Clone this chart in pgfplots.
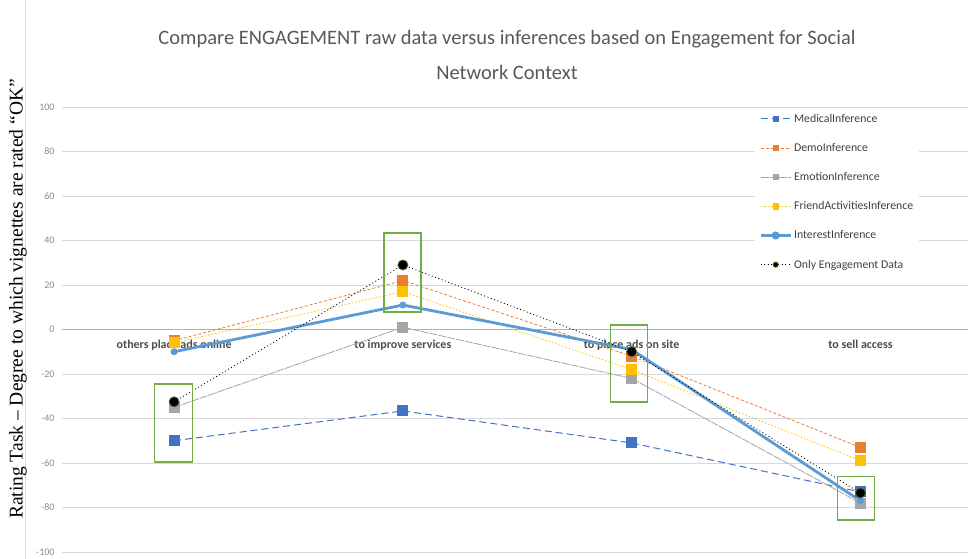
\documentclass[border=0pt]{standalone}
\usepackage{pgfplots}
\pgfplotsset{compat=1.18}
\usepackage{fontspec}
\setmainfont{Carlito}
\newfontfamily\serifb{Liberation Serif}
\definecolor{cMed}{HTML}{4472C4}
\definecolor{cDemo}{HTML}{ED7D31}
\definecolor{cEmo}{HTML}{A5A5A5}
\definecolor{cFriend}{HTML}{FFC000}
\definecolor{cInt}{HTML}{5B9BD5}
\definecolor{cBox}{HTML}{70AD47}
\definecolor{cTxt}{HTML}{595959}

\begin{document}
\begin{tikzpicture}
\path[use as bounding box] (-62pt,-7pt) rectangle (909pt,552pt);
\draw[black!15] (-37pt,-7pt) -- (-37pt,552pt);
\begin{axis}[
  scale only axis, width=906pt, height=445pt,
  xmin=-0.49, xmax=3.47, ymin=-100, ymax=100,
  axis x line=middle, axis y line=left,
  x axis line style={-, black!30, line width=1.2pt},
  y axis line style={draw=none},
  xtick={0,1,2,3},
  xticklabels={others place ads online, to improve services, to place ads on site, to sell access},
  xticklabel style={font=\fontsize{12}{14}\selectfont\bfseries, text=black!70, yshift=-7pt},
  ytick={-100,-80,...,100},
  yticklabel style={font=\fontsize{10}{11}\selectfont, text=black!45, xshift=-4pt},
  /pgf/number format/assume math mode=true,
  major tick length=0pt,
  ymajorgrids, grid style={black!15, line width=0.8pt},
  legend style={at={(rel axis cs:0.765,0.998)}, anchor=north west, draw=none,
    fill=white, font=\fontsize{11.8}{13}\selectfont, text=black!75,
    row sep=15.5pt, inner sep=4pt},
  legend cell align=left,
  legend image code/.code={
    \draw[#1] (0pt,0pt) -- (30pt,0pt);
    \draw[#1, solid, mark size=2.6pt] plot coordinates {(15pt,0pt)};},
  clip=false,
]
\addplot[cMed, line width=1pt, dash pattern=on 7pt off 4pt, mark=square*, mark size=5pt, mark options={solid}]
  coordinates {(0,-50)(1,-36.6)(2,-51)(3,-73)};
\addlegendentry{MedicalInference}
\addplot[cDemo, line width=0.8pt, dash pattern=on 3pt off 2pt, mark=square*, mark size=5pt, mark options={solid}]
  coordinates {(0,-5)(1,22)(2,-12)(3,-53)};
\addlegendentry{DemoInference}
\addplot[cEmo, line width=0.8pt, dash pattern=on 8pt off 1pt, mark=square*, mark size=5pt, mark options={solid}]
  coordinates {(0,-35)(1,1)(2,-22)(3,-78)};
\addlegendentry{EmotionInference}
\addplot[cFriend, line width=0.8pt, dash pattern=on 1.5pt off 2pt, mark=square*, mark size=5pt, mark options={solid}]
  coordinates {(0,-6)(1,17)(2,-18)(3,-59)};
\addlegendentry{FriendActivitiesInference}
\addplot[cInt, line width=2.8pt, mark=*, mark size=2pt, mark options={solid}]
  coordinates {(0,-10)(1,11)(2,-9)(3,-77)};
\addlegendentry{InterestInference}
\addplot[black, line width=0.8pt, dash pattern=on 1pt off 2.5pt, mark=*, mark size=5pt,
  mark options={solid, fill=black, draw=cBox!60!black}]
  coordinates {(0,-32.5)(1,29)(2,-10)(3,-73.5)};
\addlegendentry{Only Engagement Data}
\draw[cBox, line width=1.3pt] (axis cs:-0.087,-24.5) rectangle (axis cs:0.079,-59.5);
\draw[cBox, line width=1.3pt] (axis cs:0.917,43.4) rectangle (axis cs:1.079,7.9);
\draw[cBox, line width=1.3pt] (axis cs:1.908,2) rectangle (axis cs:2.07,-32.6);
\draw[cBox, line width=1.3pt] (axis cs:2.90,-66) rectangle (axis cs:3.06,-85.6);
\end{axis}
\node[rotate=90, font=\serifb\fontsize{19.5}{21}\selectfont] at (-44pt,253pt)
  {Rating Task – Degree to which vignettes are rated “OK”};
\node[align=center, text=cTxt, font=\fontsize{20.5}{35}\selectfont] at (445pt,497pt)
  {Compare ENGAGEMENT raw data versus inferences based on Engagement for Social\\Network Context};
\end{tikzpicture}
\end{document}
